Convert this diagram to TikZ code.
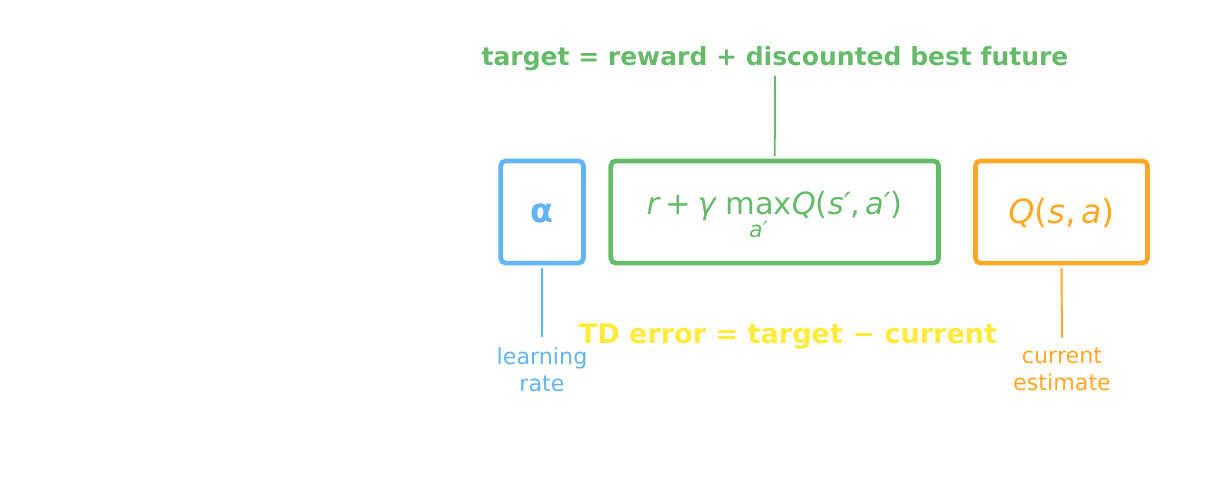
\documentclass[tikz,border=0pt]{standalone}
\usepackage{amsmath}
\usepackage{fontspec}
\setmainfont{DejaVu Sans}

\definecolor{tdblue}{HTML}{64B5F6}
\definecolor{tdgreen}{HTML}{66BB6A}
\definecolor{tdorange}{HTML}{FFA726}
\definecolor{tdyellow}{HTML}{FFEB3B}

\tikzset{
  termbox/.style={draw=#1, text=#1, line width=3.4pt, rounded corners=3.6pt, inner sep=0pt,
                  minimum height=73.6pt},
  termnote/.style={text=#1, font=\fontsize{16}{19.4}\selectfont, align=center},
  termtick/.style={draw=#1, line width=1.4pt}
}

\begin{document}
\begin{tikzpicture}[x=0.72pt,y=-0.72pt]

    \useasboundingbox (0,0) rectangle (1230,483);

    % the three terms of the update
    \node[termbox=tdblue, minimum width=59.6pt,
          font=\fontsize{24}{28}\selectfont\bfseries] (alpha) at (542.1,212)
          {\raisebox{-0.8pt}[\height][\depth]{α}};
    \node[termbox=tdgreen, minimum width=236pt,
          font=\fontsize{22}{26}\selectfont] (future) at (774.7,212)
          {\raisebox{-2.2pt}[\height][\depth]{$\textit{r}\mathbin{\textup{+}}\textit{γ}\,\mathop{\textup{max}}\limits_{\mbox{\fontsize{16}{16}\selectfont\itshape\raisebox{-1.5pt}[\height][\depth]{a′}}}\mkern-3mu\textit{Q}\textup{(}\textit{s′}\textup{,}\,\textit{a′}\textup{)}$}};
    \node[termbox=tdorange, minimum width=123.8pt,
          font=\fontsize{24}{28}\selectfont] (current) at (1061.5,212)
          {\raisebox{-0.8pt}[\height][\depth]{\textit{Q}(\textit{s},\,\textit{a})}};

    % labels
    \node[text=tdgreen, font=\fontsize{18}{22}\selectfont\bfseries] (target) at (775,58.5)
          {target = reward + discounted best future};
    \node[text=tdyellow, font=\fontsize{19.5}{24}\selectfont\bfseries] (tderror) at (788,337)
          {TD error = target − current};
    \node[termnote=tdblue] (lrate) at (542,369.5) {learning\\rate};
    \node[termnote=tdorange] (estimate) at (1062,369.5) {current\\estimate};

    \draw[termtick=tdgreen] (target.south) -- ([yshift=1.7pt]future.north);
    \draw[termtick=tdblue, shorten >=4pt] ([yshift=-1.7pt]alpha.south) -- (lrate.north);
    \draw[termtick=tdorange, shorten >=4pt] ([yshift=-1.7pt]current.south) -- (estimate.north);
\end{tikzpicture}
\end{document}
